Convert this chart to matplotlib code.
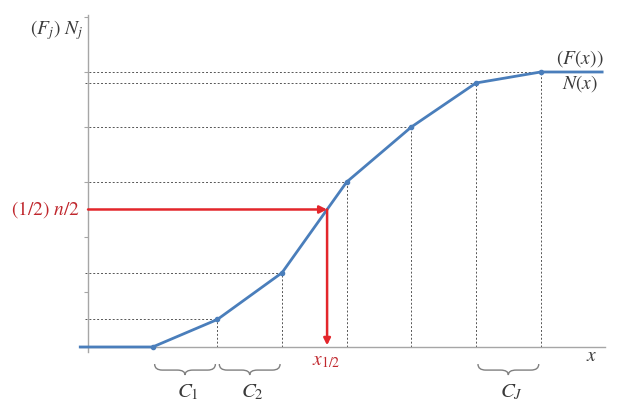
import numpy as np
import matplotlib
matplotlib.use("Agg")
import matplotlib.pyplot as plt
from matplotlib.path import Path
from matplotlib.patches import PathPatch

plt.rcParams["mathtext.fontset"] = "stix"
plt.rcParams["font.family"] = ["Liberation Serif", "DejaVu Serif"]

# -------------------------
# data: class boundaries and cumulative counts
# -------------------------
bounds = [1, 2, 3, 4, 5, 6, 7]
cum_n = [0, 5, 13.5, 30, 40, 48, 50]
x_start, x_end = -0.12, 7.95        # flat tails of the polygon
n_total = 50
y_ticks = [10, 20, 30, 40, 50, 60]
brace_classes = [(1, 2, r"$C_1$"), (2, 3, r"$C_2$"), (6, 7, r"$C_J$")]

blue = "#4A7EBB"
red_arrow = "#E3262B"
red_text = "#C0272D"
axis_grey = "#A6A6A6"
dash_grey = "#555555"
text_col = "#3A3A3A"

fig = plt.figure(figsize=(6.3, 4.11), dpi=100)
ax = fig.add_axes([0, 0, 1, 1])
ax.set_xlim(-1.361, 8.381)
ax.set_ylim(-11.64, 63.09)

# axes as spines through the origin
for s in ["top", "right"]:
    ax.spines[s].set_visible(False)
ax.spines["left"].set_position(("data", 0))
ax.spines["bottom"].set_position(("data", 0))
ax.spines["left"].set_bounds(-0.9, 60.4)
ax.spines["bottom"].set_bounds(x_start, 8.0)
for s in ["left", "bottom"]:
    ax.spines[s].set_color(axis_grey)
    ax.spines[s].set_linewidth(1.0)
ax.set_xticks([])
ax.set_yticks(y_ticks)
ax.set_yticklabels([])
ax.tick_params(axis="y", direction="out", length=3, color=axis_grey, width=0.8)

# dashed guide lines
for xb, yb in zip(bounds[1:], cum_n[1:]):
    ax.plot([-0.04, xb], [yb, yb], ls=(0, (2, 2)), color=dash_grey, lw=0.7, zorder=1)
    ax.plot([xb, xb], [0, yb], ls=(0, (2, 2)), color=dash_grey, lw=0.7, zorder=1)

# cumulative polygon
ax.plot([x_start] + bounds + [x_end], [0] + cum_n + [cum_n[-1]],
        color=blue, lw=2.0, zorder=3, solid_joinstyle="round")
ax.plot(bounds, cum_n, "o", color=blue, ms=3, zorder=4)

# median by linear interpolation
half = n_total / 2
x_med = np.interp(half, cum_n, bounds)
ax.annotate("", xy=(x_med, half), xytext=(0, half),
            arrowprops=dict(arrowstyle="-|>", color=red_arrow, lw=1.8,
                            mutation_scale=11, shrinkA=0, shrinkB=0), zorder=5)
ax.annotate("", xy=(x_med, 0.3), xytext=(x_med, half),
            arrowprops=dict(arrowstyle="-|>", color=red_arrow, lw=1.8,
                            mutation_scale=10, shrinkA=0, shrinkB=0), zorder=5)

# braces under classes
def brace(x0, x1, y0=-3.1, y_mid=-4.2, y_tip=-5.1, r=0.12):
    xm = (x0 + x1) / 2
    verts = [(x0, y0), (x0, y_mid), (x0 + r, y_mid),
             (xm - r, y_mid), (xm, y_mid), (xm, y_tip),
             (xm, y_mid), (xm + r, y_mid),
             (x1 - r, y_mid), (x1, y_mid), (x1, y0)]
    codes = [Path.MOVETO, Path.CURVE3, Path.CURVE3,
             Path.LINETO, Path.CURVE3, Path.CURVE3,
             Path.CURVE3, Path.CURVE3,
             Path.LINETO, Path.CURVE3, Path.CURVE3]
    ax.add_patch(PathPatch(Path(verts, codes), fill=False, ec="#808080", lw=1.0))

for a, b, lab in brace_classes:
    brace(a + 0.03, b - 0.03)
    ax.text((a + b) / 2 + 0.05, -8.3, lab, fontsize=15, ha="center", va="center", color=text_col)

# labels
ax.text(-0.08, 57.6, r"$(F_j)\ N_j$", fontsize=14, ha="right", va="center", color=text_col)
ax.text(-0.124, half, r"$(1/2)\ n/2$", fontsize=14, ha="right", va="center", color=red_text)
ax.text(x_med - 0.02, -2.6, r"$x_{1/2}$", fontsize=14, ha="center", va="center", color=red_text)
ax.text(7.78, -1.8, r"$x$", fontsize=14, ha="center", va="center", color=text_col)
ax.text(7.61, 52.5, r"$(F(x))$", fontsize=14, ha="center", va="center", color=text_col)
ax.text(7.61, 47.9, r"$N(x)$", fontsize=14, ha="center", va="center", color=text_col)

fig.savefig("out.png", dpi=100)
